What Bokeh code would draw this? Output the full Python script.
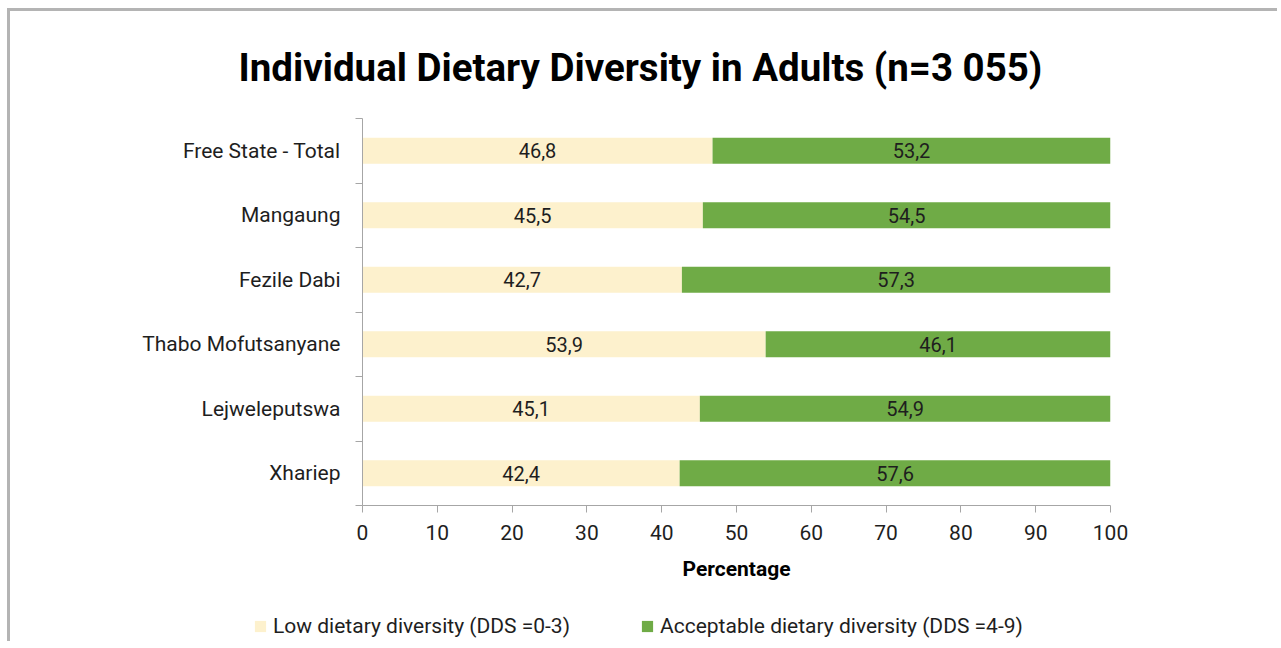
from bokeh.plotting import figure
from bokeh.layouts import column, row
from bokeh.models import ColumnDataSource, Range1d, FixedTicker, Legend, LegendItem, LabelSet
from bokeh.core.properties import value
from bokeh.embed import file_html
from bokeh.resources import INLINE

categories = ["Free State - Total", "Mangaung", "Fezile Dabi", "Thabo Mofutsanyane", "Lejweleputswa", "Xhariep"]
low = [46.8, 45.5, 42.7, 53.9, 45.1, 42.4]
acceptable = [53.2, 54.5, 57.3, 46.1, 54.9, 57.6]
x_ticks = [0, 10, 20, 30, 40, 50, 60, 70, 80, 90, 100]
series_names = ["Low dietary diversity (DDS =0-3)", "Acceptable dietary diversity (DDS =4-9)"]
title_text = "Individual Dietary Diversity in Adults (n=3 055)"
x_label = "Percentage"

LOW_COLOR = "#FDF1CD"
ACC_COLOR = "#6FAB46"
AXIS_COLOR = "#A6A6A6"
TEXT_COLOR = "#1E1E1E"
FONT = "Roboto"
FRAME_BORDER = "3px solid #B4B4B4"

pos = [i + 0.5 for i in range(len(categories))]
fmt = lambda v: ("%.1f" % v).replace(".", ",")
src = ColumnDataSource(dict(
    pos=pos,
    low=low,
    acc=acceptable,
    total=[a + b for a, b in zip(low, acceptable)],
    low_mid=[a / 2 for a in low],
    acc_mid=[a + b / 2 for a, b in zip(low, acceptable)],
    low_txt=[fmt(v) for v in low],
    acc_txt=[fmt(v) for v in acceptable],
))

# ---------------- main chart ----------------
p = figure(width=1270, height=589,
           x_range=Range1d(0, 100), y_range=Range1d(len(categories), 0),
           output_backend="svg", toolbar_location=None,
           min_border_left=352, min_border_right=170,
           min_border_top=107, min_border_bottom=95)
p.styles = {"margin-left": "7px", "margin-top": "8px",
            "border-left": FRAME_BORDER, "border-top": FRAME_BORDER}
p.outline_line_color = None
p.xgrid.visible = False
p.ygrid.visible = False

r1 = p.hbar(y="pos", left=0, right="low", height=0.4, source=src,
            fill_color=LOW_COLOR, line_color=None)
r2 = p.hbar(y="pos", left="low", right="total", height=0.4, source=src,
            fill_color=ACC_COLOR, line_color=None)

for xcol, tcol in (("low_mid", "low_txt"), ("acc_mid", "acc_txt")):
    p.add_layout(LabelSet(x=xcol, y="pos", text=tcol, source=src,
                          text_align="center", text_baseline="middle",
                          text_font=value(FONT), text_font_size=value("20px"),
                          text_color=TEXT_COLOR))

# y axis: labels at category centres, ticks at category boundaries
p.yaxis.ticker = FixedTicker(ticks=pos, minor_ticks=list(range(len(categories) + 1)))
p.yaxis.major_label_overrides = {pp: c for pp, c in zip(pos, categories)}
p.yaxis.major_tick_out = 0
p.yaxis.major_tick_in = 0
p.yaxis.minor_tick_out = 7
p.yaxis.minor_tick_in = 0
p.yaxis.minor_tick_line_color = AXIS_COLOR
p.yaxis.axis_line_color = AXIS_COLOR
p.yaxis.major_label_standoff = 15
p.yaxis.major_label_text_font = FONT
p.yaxis.major_label_text_font_size = "21px"
p.yaxis.major_label_text_color = TEXT_COLOR

# x axis
p.xaxis.ticker = FixedTicker(ticks=x_ticks)
p.xaxis.major_tick_out = 7
p.xaxis.major_tick_in = 0
p.xaxis.minor_tick_line_color = None
p.xaxis.major_tick_line_color = AXIS_COLOR
p.xaxis.axis_line_color = AXIS_COLOR
p.xaxis.major_label_standoff = 12
p.xaxis.major_label_text_font = FONT
p.xaxis.major_label_text_font_size = "21px"
p.xaxis.major_label_text_color = TEXT_COLOR
p.xaxis.axis_label = x_label
p.xaxis.axis_label_text_font = FONT
p.xaxis.axis_label_text_font_style = "bold"
p.xaxis.axis_label_text_font_size = "21px"
p.xaxis.axis_label_text_color = "#000000"
p.xaxis.axis_label_standoff = 14

# title
p.title.text = title_text
p.title.text_font = FONT
p.title.text_font_style = "bold"
p.title.text_font_size = "38.5px"
p.title.text_color = "#000000"
p.title.align = "left"
p.title.offset = -124
p.title.standoff = 58

# ---------------- legend strip ----------------
lg = figure(width=1270, height=44,
            x_range=Range1d(0, 100), y_range=Range1d(100, 101),
            output_backend="svg", toolbar_location=None,
            x_axis_location=None, y_axis_location=None,
            min_border_left=0, min_border_right=0, min_border_top=0, min_border_bottom=0)
lg.styles = {"margin-left": "7px", "border-left": FRAME_BORDER}
lg.outline_line_color = None
lg.xgrid.visible = False
lg.ygrid.visible = False
l1 = lg.hbar(y="pos", left=0, right="low", height=0.4, source=src,
             fill_color=LOW_COLOR, line_color=None)
l2 = lg.hbar(y="pos", left="low", right="total", height=0.4, source=src,
             fill_color=ACC_COLOR, line_color=None)
legend = Legend(items=[LegendItem(label=series_names[0], renderers=[l1]),
                       LegendItem(label=series_names[1], renderers=[l2])],
                orientation="horizontal", location=(243, 3),
                glyph_width=14, glyph_height=14, label_standoff=6, spacing=70,
                padding=0, margin=0, border_line_color=None, background_fill_alpha=0,
                label_text_font=FONT, label_text_font_size="21px", label_text_color=TEXT_COLOR)
lg.add_layout(legend)

page = column(p, row(lg, spacing=0), spacing=0)
open("out.html", "w").write(file_html(page, INLINE))
